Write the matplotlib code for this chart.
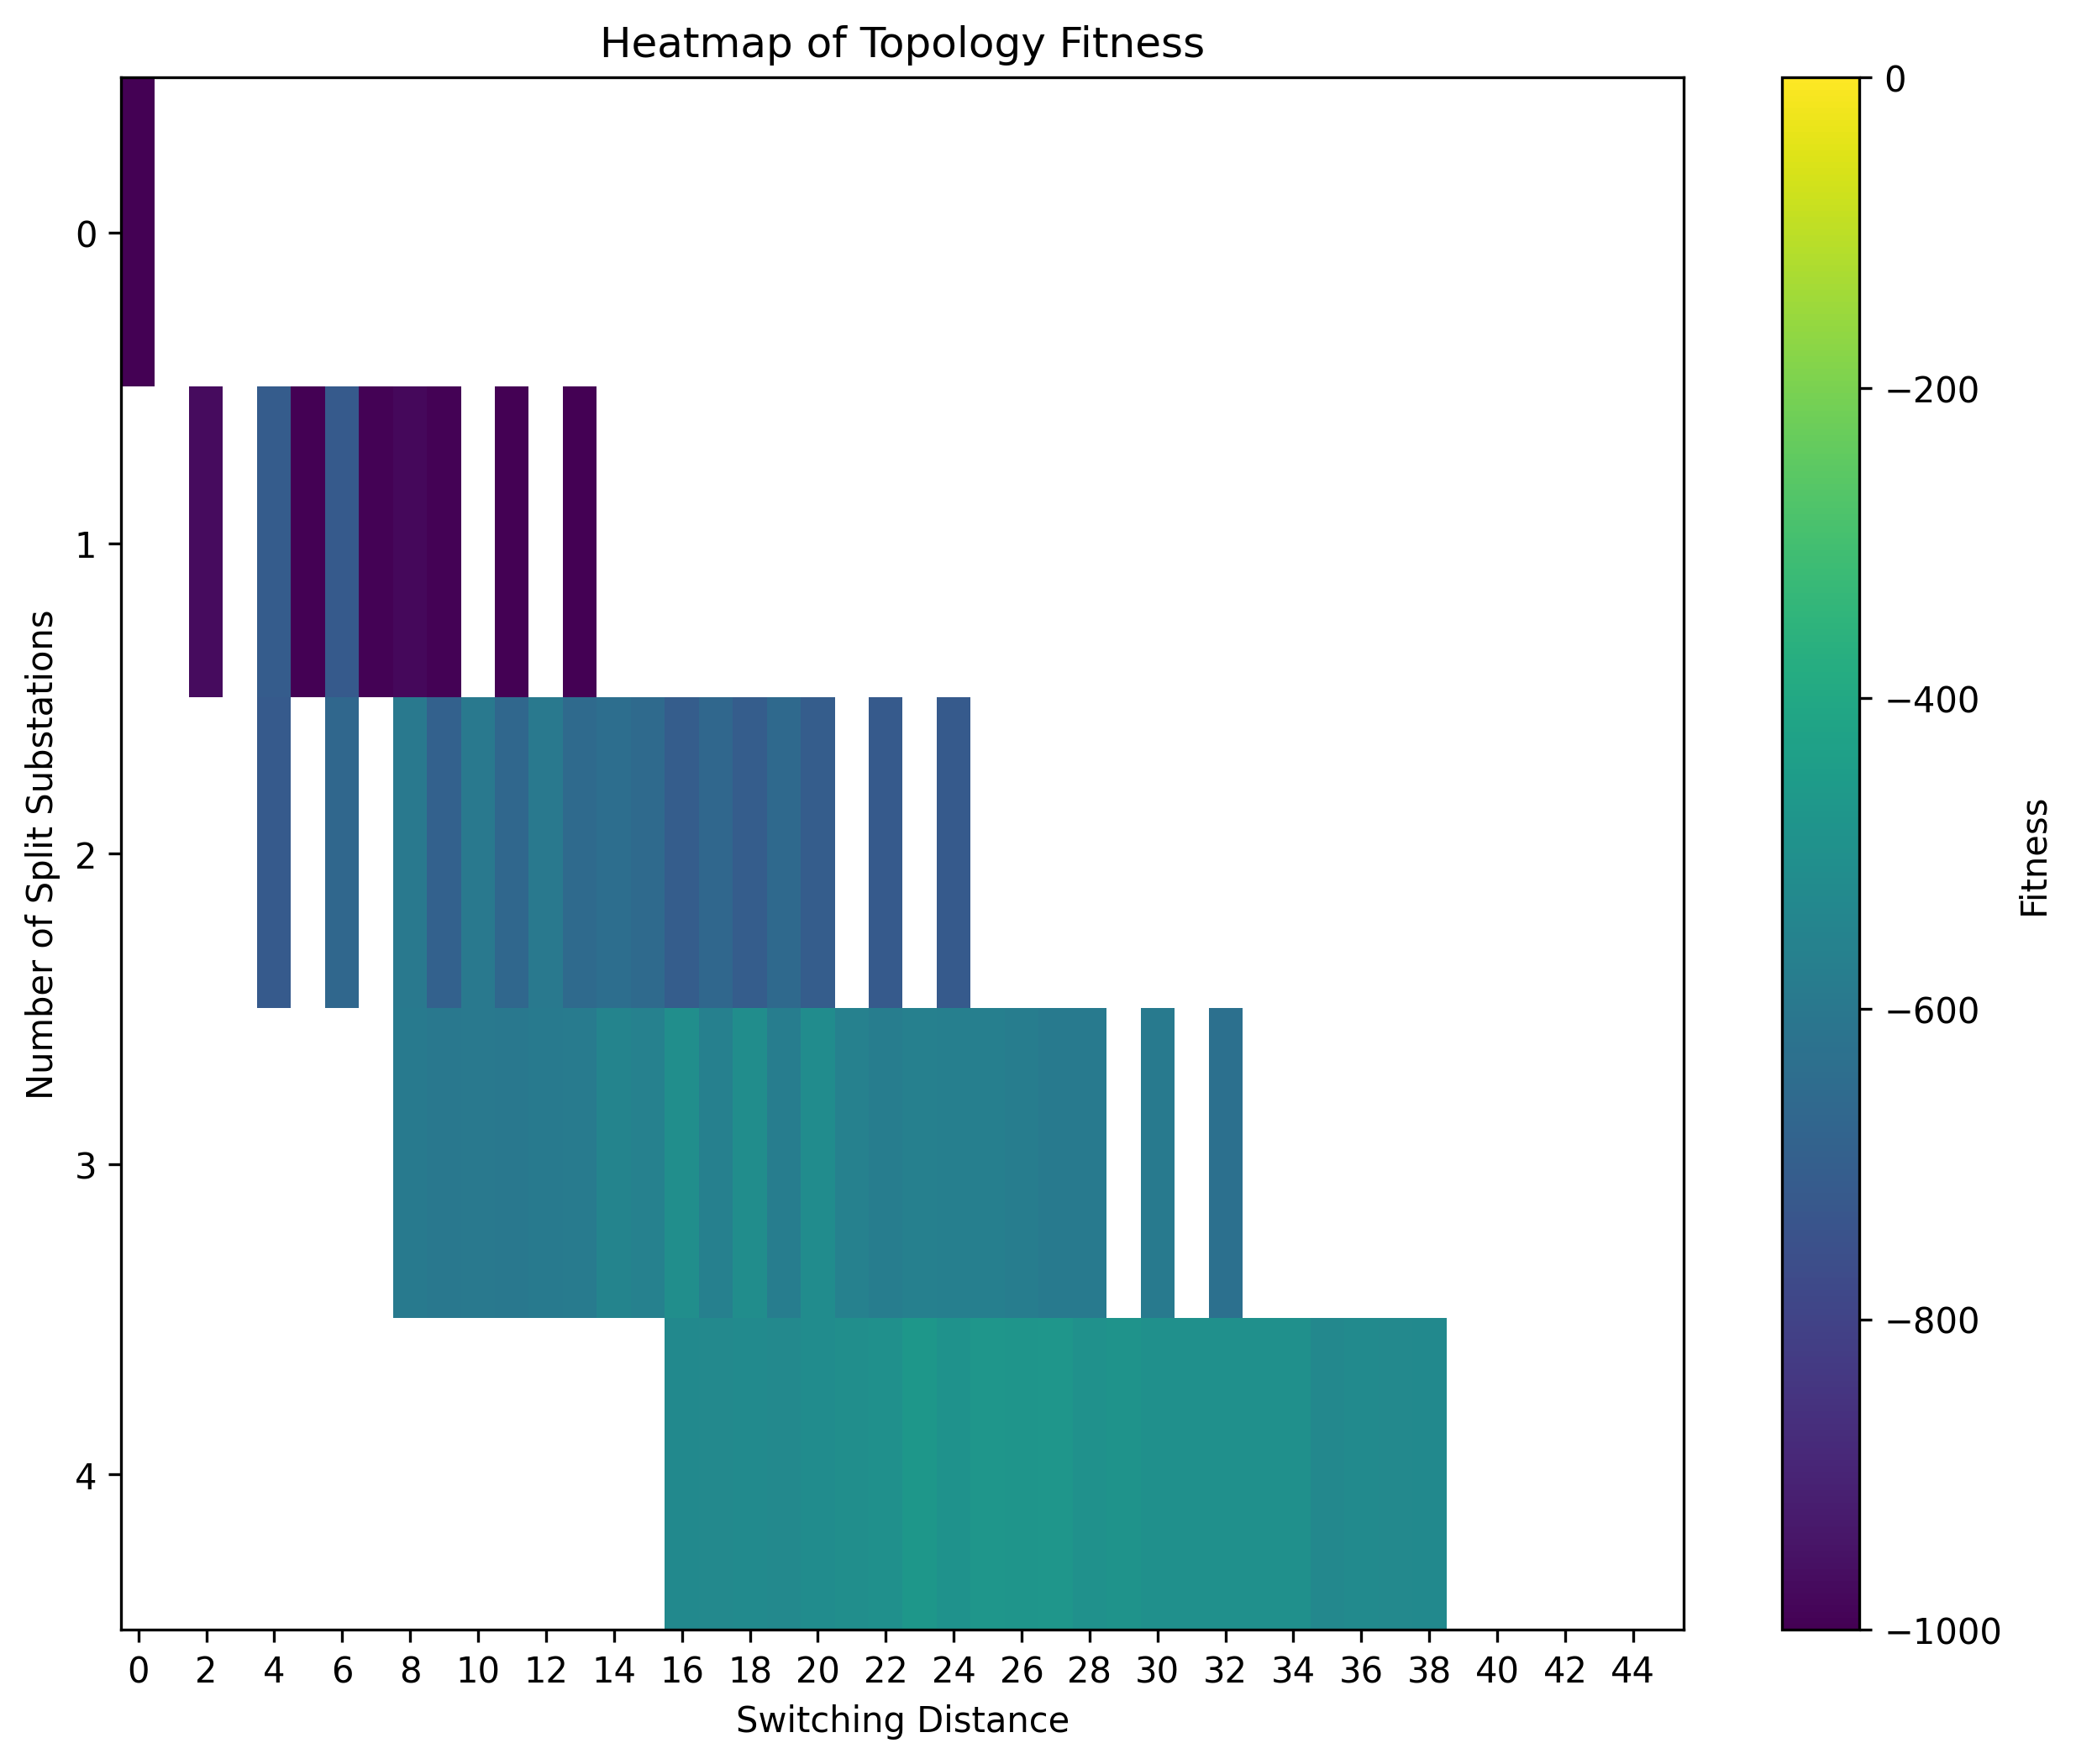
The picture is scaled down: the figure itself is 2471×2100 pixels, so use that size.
import numpy as np
import matplotlib
matplotlib.use('Agg')
import matplotlib.pyplot as plt

# switching distance columns and fitness values for each number of split substations
n_cols = 46
row0_cols = [0]
row0_vals = [-1000]
row1_cols = [2, 4, 5, 6, 7, 8, 9, 11, 13]
row1_vals = [-970, -710, -1000, -715, -995, -980, -995, -1000, -1000]
row2_cols = [4, 6, 8, 9, 10, 11, 12, 13, 14, 15, 16, 17, 18, 19, 20, 22, 24]
row2_vals = [-715, -665, -595, -690, -595, -665, -595, -655, -640, -655,
             -705, -665, -705, -660, -705, -715, -715]
row3_cols = [8, 9, 10, 11, 12, 13, 14, 15, 16, 17, 18, 19, 20, 21, 22, 23,
             24, 25, 26, 27, 28, 30, 32]
row3_vals = [-590, -600, -595, -600, -590, -585, -550, -560, -505, -565,
             -510, -575, -515, -560, -575, -565, -570, -570, -575, -590,
             -590, -590, -630]
row4_cols = list(range(16, 39))
row4_vals = [-525, -530, -520, -530, -515, -505, -500, -470, -490, -475,
             -480, -475, -495, -485, -500, -500, -500, -500, -500, -535,
             -520, -530, -525]

rows = [(row0_cols, row0_vals), (row1_cols, row1_vals), (row2_cols, row2_vals),
        (row3_cols, row3_vals), (row4_cols, row4_vals)]

heat = np.full((len(rows), n_cols), np.nan)
for i, (cols, vals) in enumerate(rows):
    heat[i, cols] = vals

plt.figure(figsize=(10, 8))
plt.imshow(heat, aspect='auto', cmap='viridis', vmin=-1000, vmax=0)
plt.colorbar(label='Fitness')
plt.title('Heatmap of Topology Fitness')
plt.xlabel('Switching Distance')
plt.ylabel('Number of Split Substations')
plt.xticks(np.arange(0, n_cols, 2))
plt.yticks(np.arange(len(rows)))
plt.savefig('out.png', dpi=300, bbox_inches='tight')
